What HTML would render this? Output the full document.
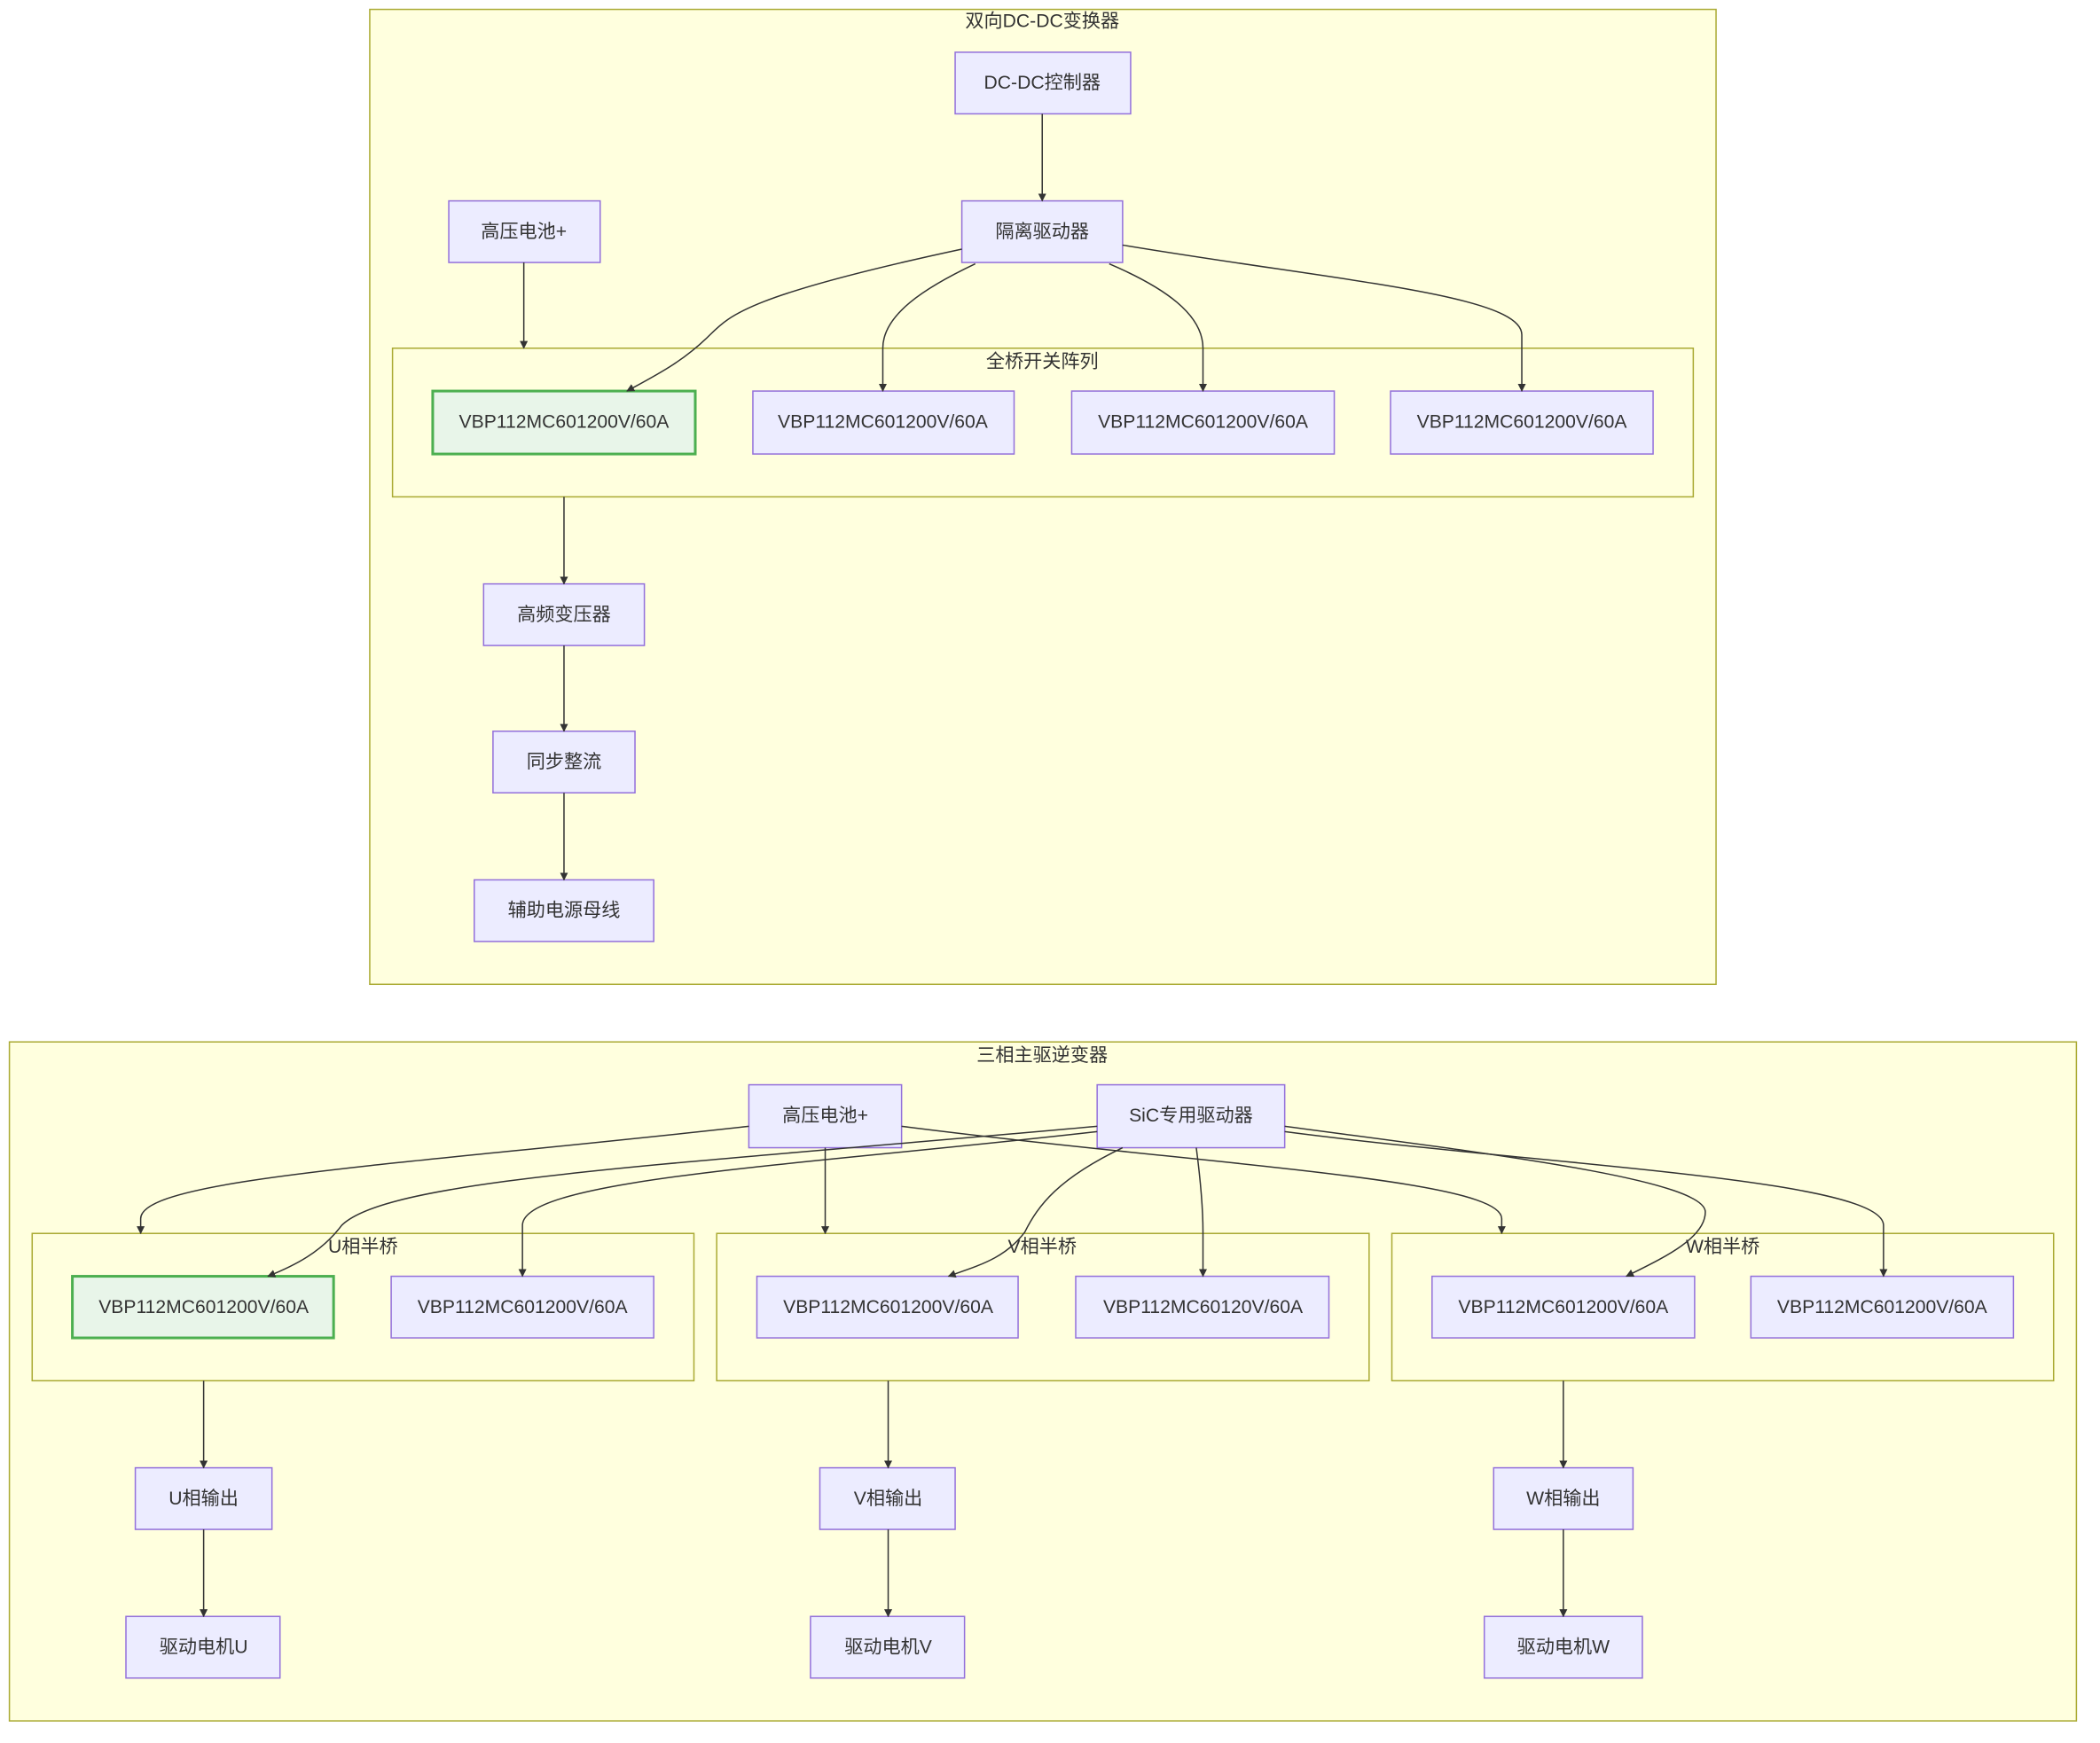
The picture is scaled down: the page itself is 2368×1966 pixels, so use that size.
<!DOCTYPE html>
<html><head><meta charset="utf-8"><style>
html,body{margin:0;padding:0;background:#fff;}
svg{display:block;}
text{font-family:"Liberation Sans","Noto Sans CJK SC",sans-serif;fill:#333;}
.c{fill:#ffffde;stroke:#aaaa33;stroke-width:1;}
.n{fill:#ececff;stroke:#9370db;stroke-width:1;}
.g{fill:#e8f5e9;stroke:#4caf50;stroke-width:2;}
.e{fill:none;stroke:#333;stroke-width:1;marker-end:url(#a);}
.t{font-size:14px;text-anchor:middle;dominant-baseline:central;}
</style></head><body>
<svg width="2368" height="1966" viewBox="0 0 1567.6 1301.5" xmlns="http://www.w3.org/2000/svg">
<defs><marker id="a" viewBox="0 0 10 10" refX="9" refY="5" markerWidth="6" markerHeight="6" orient="auto"><path d="M0,0L10,5L0,10z" fill="#333"/></marker></defs>
<rect class="c" x="276" y="7" width="1005" height="728"/>
<text class="t" x="778" y="16">双向DC-DC变换器</text>
<rect class="c" x="293" y="260" width="971" height="111"/>
<text class="t" x="778" y="270">全桥开关阵列</text>
<rect class="n" x="713" y="39" width="131" height="46"/><text class="t" x="778" y="62">DC-DC控制器</text>
<rect class="n" x="718" y="150" width="120" height="46"/><text class="t" x="778" y="173">隔离驱动器</text>
<rect class="n" x="335" y="150" width="113" height="46"/><text class="t" x="391" y="173">高压电池+</text>
<rect class="g" x="323" y="292" width="196" height="47"/><text class="t" x="421" y="315">VBP112MC601200V/60A</text>
<rect class="n" x="562" y="292" width="195" height="47"/><text class="t" x="659" y="315">VBP112MC601200V/60A</text>
<rect class="n" x="800" y="292" width="196" height="47"/><text class="t" x="898" y="315">VBP112MC601200V/60A</text>
<rect class="n" x="1038" y="292" width="196" height="47"/><text class="t" x="1136" y="315">VBP112MC601200V/60A</text>
<rect class="n" x="361" y="436" width="120" height="46"/><text class="t" x="421" y="459">高频变压器</text>
<rect class="n" x="368" y="546" width="106" height="46"/><text class="t" x="421" y="569">同步整流</text>
<rect class="n" x="354" y="657" width="134" height="46"/><text class="t" x="421" y="680">辅助电源母线</text>
<path class="e" d="M778,85L778,150"/>
<path class="e" d="M391,196L391,260"/>
<path class="e" d="M718,186C560,220 545,235 530,250C510,270 490,280 468,292"/>
<path class="e" d="M728,197C690,215 659,235 659,260L659,292"/>
<path class="e" d="M828,197C870,215 898,235 898,260L898,292"/>
<path class="e" d="M838,183C1000,210 1136,220 1136,250L1136,292"/>
<path class="e" d="M421,371L421,436"/>
<path class="e" d="M421,482L421,546"/>
<path class="e" d="M421,592L421,657"/>

<rect class="c" x="7" y="778" width="1543" height="507"/>
<text class="t" x="778" y="788">三相主驱逆变器</text>
<rect class="c" x="24" y="921" width="494" height="110"/><text class="t" x="271" y="931">U相半桥</text>
<rect class="c" x="535" y="921" width="487" height="110"/><text class="t" x="778" y="931">V相半桥</text>
<rect class="c" x="1039" y="921" width="494" height="110"/><text class="t" x="1286" y="931">W相半桥</text>
<rect class="n" x="559" y="810" width="114" height="47"/><text class="t" x="616" y="833">高压电池+</text>
<rect class="n" x="819" y="810" width="140" height="47"/><text class="t" x="889" y="833">SiC专用驱动器</text>
<rect class="g" x="54" y="953" width="195" height="46"/><text class="t" x="152" y="976">VBP112MC601200V/60A</text>
<rect class="n" x="292" y="953" width="196" height="46"/><text class="t" x="390" y="976">VBP112MC601200V/60A</text>
<rect class="n" x="565" y="953" width="195" height="46"/><text class="t" x="663" y="976">VBP112MC601200V/60A</text>
<rect class="n" x="803" y="953" width="189" height="46"/><text class="t" x="898" y="976">VBP112MC60120V/60A</text>
<rect class="n" x="1069" y="953" width="196" height="46"/><text class="t" x="1167" y="976">VBP112MC601200V/60A</text>
<rect class="n" x="1307" y="953" width="196" height="46"/><text class="t" x="1405" y="976">VBP112MC601200V/60A</text>
<rect class="n" x="101" y="1096" width="102" height="46"/><text class="t" x="152" y="1119">U相输出</text>
<rect class="n" x="612" y="1096" width="101" height="46"/><text class="t" x="663" y="1119">V相输出</text>
<rect class="n" x="1115" y="1096" width="104" height="46"/><text class="t" x="1167" y="1119">W相输出</text>
<rect class="n" x="94" y="1207" width="115" height="46"/><text class="t" x="152" y="1230">驱动电机U</text>
<rect class="n" x="605" y="1207" width="115" height="46"/><text class="t" x="663" y="1230">驱动电机V</text>
<rect class="n" x="1108" y="1207" width="118" height="46"/><text class="t" x="1167" y="1230">驱动电机W</text>
<path class="e" d="M559,841C300,870 105,880 105,910L105,921"/>
<path class="e" d="M616,857L616,921"/>
<path class="e" d="M673,841C900,870 1121,880 1121,910L1121,921"/>
<path class="e" d="M819,841C500,870 290,880 255,915C240,935 220,945 200,953"/>
<path class="e" d="M819,845C600,870 390,880 390,915L390,953"/>
<path class="e" d="M838,857C790,880 775,900 765,920C750,940 730,945 708,953"/>
<path class="e" d="M893,857C896,880 898,900 898,920L898,953"/>
<path class="e" d="M959,841C1100,860 1273,880 1273,905C1273,925 1240,940 1214,953"/>
<path class="e" d="M959,845C1150,870 1406,880 1406,915L1406,953"/>
<path class="e" d="M152,1031L152,1096"/><path class="e" d="M152,1142L152,1207"/>
<path class="e" d="M663,1031L663,1096"/><path class="e" d="M663,1142L663,1207"/>
<path class="e" d="M1167,1031L1167,1096"/><path class="e" d="M1167,1142L1167,1207"/>
</svg>
</body></html>
